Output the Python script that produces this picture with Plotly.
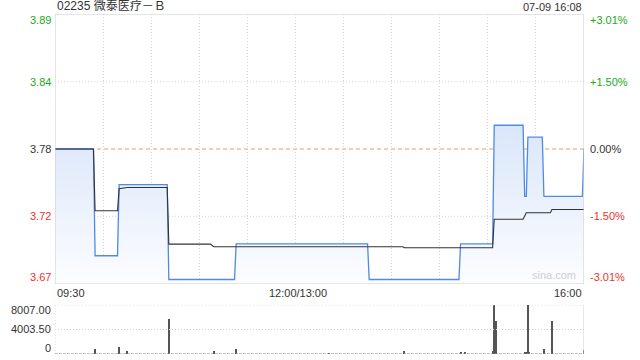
import plotly.graph_objects as go

# ---- data ----
pre_close = 3.78
y_low, y_high = 3.6662, 3.8938

price_t = [0, 24, 25, 39, 40, 70, 71, 112, 113, 195, 196, 252, 253, 273, 274, 292, 293, 294, 295, 304, 305, 329, 330]
price_v = [3.78, 3.78, 3.69, 3.69, 3.75, 3.75, 3.67, 3.67, 3.70, 3.70, 3.67, 3.67, 3.70, 3.70, 3.80, 3.80, 3.74, 3.74, 3.79, 3.79, 3.74, 3.74, 3.78]

avg_t = [0, 24, 25, 39, 40, 45, 70, 71, 97, 99, 217, 218, 273, 274, 292, 294, 309, 310, 330]
avg_v = [3.78, 3.78, 3.728, 3.728, 3.7465, 3.7476, 3.7476, 3.6998, 3.6998, 3.6976, 3.6976, 3.6967, 3.6967, 3.7208, 3.7208, 3.7262, 3.7262, 3.729, 3.729]

vol_t = [25, 40, 45, 71, 99, 113, 171, 218, 253, 256, 273, 274, 275, 293, 294, 295, 296, 305, 310, 330]
vol_v = [800, 1150, 500, 5720, 500, 800, 150, 500, 350, 350, 500, 8007, 5400, 350, 200, 8007, 350, 800, 5400, 650]
vol_max = 8007

left_labels = ["3.89", "3.84", "3.78", "3.72", "3.67"]
right_labels = ["+3.01%", "+1.50%", "0.00%", "-1.50%", "-3.01%"]
label_vals = [3.8938, 3.8367, 3.78, 3.7233, 3.6662]
label_colors = ["#22a822", "#22a822", "#333333", "#f03030", "#f03030"]
label_shift = [-6, 0, 0, 0, 7]

vol_labels = ["8007.00", "4003.50", "0"]
vol_label_vals = [8007, 4003.5, 0]
vol_label_shift = [-5, 1, 6]

x_labels = ["09:30", "12:00/13:00", "16:00"]
x_label_pos = [0, 150, 330]
x_label_anchor = ["left", "center", "right"]
x_label_shift = [0, 3, 0]

title_text = "02235 微泰医疗－Ｂ"
time_text = "07-09 16:08"

FONT = "Liberation Sans, Arial, Noto Sans CJK SC, sans-serif"

fig = go.Figure()

fig.add_trace(go.Scatter(
    x=price_t, y=price_v, mode="lines",
    line=dict(color="#5089e6", width=1.3),
    fill="tozeroy",
    fillgradient=dict(type="vertical",
                      colorscale=[[0, "rgba(252,253,255,1)"], [1, "rgba(218,230,250,1)"]],
                      start=y_low, stop=3.80),
    xaxis="x", yaxis="y", hoverinfo="skip", showlegend=False))

fig.add_trace(go.Scatter(
    x=avg_t, y=avg_v, mode="lines",
    line=dict(color="#333333", width=1.1),
    xaxis="x", yaxis="y", hoverinfo="skip", showlegend=False))

fig.add_trace(go.Bar(
    x=vol_t, y=vol_v, width=0.7,
    marker=dict(color="#555555", line=dict(width=0)),
    xaxis="x2", yaxis="y2", hoverinfo="skip", showlegend=False))

shapes = []
# price panel border
shapes.append(dict(type="rect", xref="x", yref="y", x0=0, x1=330, y0=y_low, y1=y_high,
                   line=dict(color="#cccccc", width=1), layer="above"))
# horizontal grid lines
for v in [3.8367, 3.7233]:
    shapes.append(dict(type="line", xref="x", yref="y", x0=0, x1=330, y0=v, y1=v,
                       line=dict(color="#d4d4d4", width=1, dash="1px,2px"), layer="below"))
# pre-close dashed
shapes.append(dict(type="line", xref="x", yref="y", x0=0, x1=330, y0=pre_close, y1=pre_close,
                   line=dict(color="#f09a5a", width=1, dash="4px,3px"), layer="below"))
# volume panel lines
shapes.append(dict(type="line", xref="x2", yref="y2", x0=330, x1=330, y0=0, y1=vol_max,
                   line=dict(color="#d0d0d0", width=1)))
shapes.append(dict(type="line", xref="x2", yref="y2", x0=0, x1=0, y0=0, y1=vol_max,
                   line=dict(color="#d0d0d0", width=1, dash="1px,2px")))
shapes.append(dict(type="line", xref="x2", yref="y2", x0=0, x1=330, y0=vol_max, y1=vol_max,
                   line=dict(color="#d0d0d0", width=1, dash="1px,2px")))
shapes.append(dict(type="line", xref="x2", yref="y2", x0=0, x1=330, y0=vol_max / 2, y1=vol_max / 2,
                   line=dict(color="#d0d0d0", width=1, dash="1px,2px")))
shapes.append(dict(type="line", xref="x2", yref="y2", x0=0, x1=330, y0=0, y1=0,
                   line=dict(color="#888888", width=1, dash="3px,1px")))

ann = []
for txt, v, c, s in zip(left_labels, label_vals, label_colors, label_shift):
    ann.append(dict(text=txt, xref="paper", yref="y", x=0, y=v, xanchor="right", yanchor="middle",
                    xshift=-2, yshift=s, showarrow=False, font=dict(color=c, size=11, family=FONT)))
for txt, v, c, s in zip(right_labels, label_vals, label_colors, label_shift):
    ann.append(dict(text=txt, xref="paper", yref="y", x=1, y=v, xanchor="left", yanchor="middle",
                    xshift=4, yshift=s, showarrow=False, font=dict(color=c, size=11, family=FONT)))
for txt, v, s in zip(vol_labels, vol_label_vals, vol_label_shift):
    ann.append(dict(text=txt, xref="paper", yref="y2", x=0, y=v, xanchor="right", yanchor="middle",
                    xshift=-2, yshift=s, showarrow=False, font=dict(color="#333333", size=11, family=FONT)))
for txt, p, a, s in zip(x_labels, x_label_pos, x_label_anchor, x_label_shift):
    ann.append(dict(text=txt, xref="x", yref="paper", x=p, y=0.179, xanchor=a, yanchor="middle",
                    xshift=s, showarrow=False, font=dict(color="#333333", size=11, family=FONT)))
ann.append(dict(text=title_text, xref="paper", yref="paper", x=0, y=1, xanchor="left", yanchor="bottom",
                yshift=-1, showarrow=False, font=dict(color="#333333", size=12, family=FONT)))
ann.append(dict(text=time_text, xref="paper", yref="paper", x=1, y=1, xanchor="right", yanchor="bottom",
                yshift=-1, showarrow=False, font=dict(color="#333333", size=11, family=FONT)))
ann.append(dict(text="sina.com", xref="x", yref="y", x=326, y=y_low, xanchor="right", yanchor="bottom",
                yshift=1, showarrow=False, font=dict(color="#cfcfcf", size=11, family=FONT)))

fig.update_layout(
    width=640, height=360,
    margin=dict(l=55, r=56, t=14, b=6),
    paper_bgcolor="white", plot_bgcolor="white",
    xaxis=dict(domain=[0, 1], range=[0, 330], showticklabels=False, zeroline=False,
               showgrid=True, gridcolor="#d4d4d4", griddash="1px,2px", tick0=0, dtick=30,
               fixedrange=True, anchor="y"),
    yaxis=dict(domain=[0.2059, 1], range=[y_low, y_high], showticklabels=False, showgrid=False,
               zeroline=False, fixedrange=True, anchor="x"),
    xaxis2=dict(domain=[0, 1], range=[0, 330], showticklabels=False, showgrid=False, zeroline=False,
                fixedrange=True, anchor="y2"),
    yaxis2=dict(domain=[0, 0.1441], range=[0, vol_max], showticklabels=False, showgrid=False,
                zeroline=False, fixedrange=True, anchor="x2"),
    shapes=shapes, annotations=ann, bargap=0,
    font=dict(family=FONT),
)

fig.write_html("out.html", config={"displayModeBar": False},
               post_script="document.body.style.margin='0px';document.body.style.overflow='hidden';")
